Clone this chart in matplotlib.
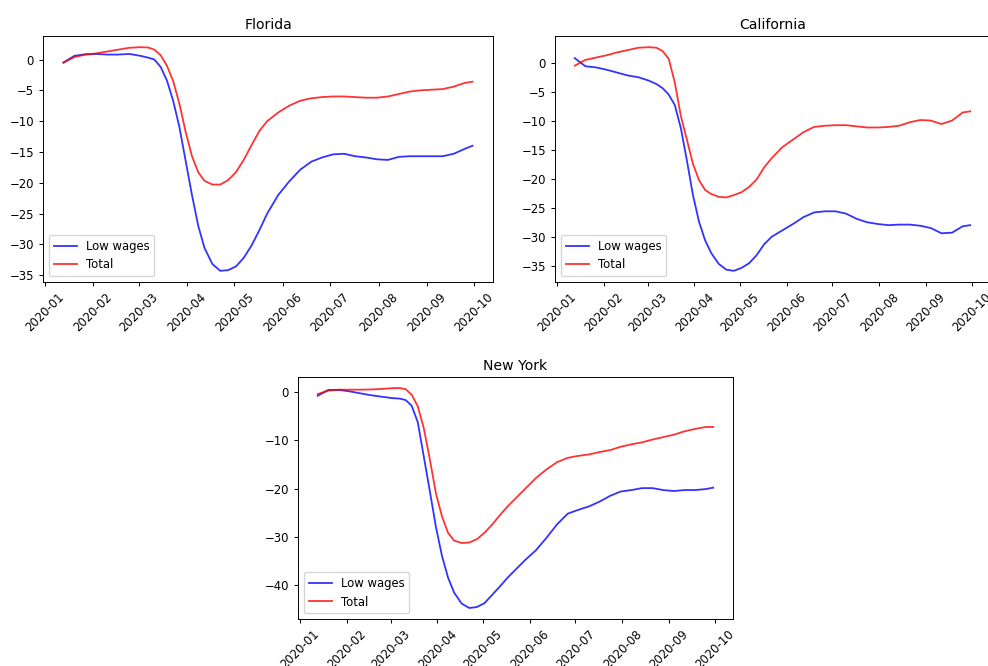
import pandas as pd
import matplotlib
matplotlib.use("Agg")
import matplotlib.pyplot as plt
import matplotlib.dates as mdates
from matplotlib.ticker import MultipleLocator

# sample dates (smoothed daily series)
dates = pd.to_datetime([
    "2020-01-13", "2020-01-20", "2020-01-27", "2020-02-03", "2020-02-10",
    "2020-02-17", "2020-02-24", "2020-03-02", "2020-03-07", "2020-03-11",
    "2020-03-15", "2020-03-19", "2020-03-23", "2020-03-27", "2020-03-31",
    "2020-04-04", "2020-04-08", "2020-04-12", "2020-04-17", "2020-04-22",
    "2020-04-27", "2020-05-02", "2020-05-07", "2020-05-12", "2020-05-17",
    "2020-05-22", "2020-05-29", "2020-06-05", "2020-06-12", "2020-06-19",
    "2020-06-26", "2020-07-03", "2020-07-10", "2020-07-17", "2020-07-24",
    "2020-07-31", "2020-08-07", "2020-08-14", "2020-08-21", "2020-08-28",
    "2020-09-04", "2020-09-11", "2020-09-18", "2020-09-25", "2020-09-30",
])

fl_low = [-0.5, 0.6, 0.85, 0.9, 0.8, 0.8, 0.9, 0.6, 0.3, 0.0,
          -1.2, -3.4, -6.7, -11.0, -16.5, -22.0, -27.0, -30.6, -33.2, -34.3,
          -34.2, -33.6, -32.2, -30.2, -27.7, -25.0, -22.0, -19.8, -17.9, -16.6,
          -15.9, -15.4, -15.3, -15.7, -15.9, -16.2, -16.3, -15.8, -15.7, -15.7,
          -15.7, -15.7, -15.3, -14.5, -14.0]
fl_total = [-0.5, 0.4, 0.8, 1.0, 1.3, 1.6, 1.9, 2.0, 1.95, 1.6,
            0.7, -1.0, -3.5, -7.2, -11.8, -15.7, -18.3, -19.7, -20.3, -20.3,
            -19.6, -18.3, -16.3, -13.9, -11.6, -10.0, -8.6, -7.5, -6.7, -6.3,
            -6.1, -6.0, -6.0, -6.1, -6.2, -6.2, -6.0, -5.6, -5.2, -5.0,
            -4.9, -4.8, -4.4, -3.8, -3.6]

ca_low = [0.9, -0.5, -0.7, -1.1, -1.6, -2.1, -2.4, -3.0, -3.6, -4.3,
          -5.4, -7.2, -11.2, -16.8, -22.8, -27.4, -30.6, -32.8, -34.7, -35.7,
          -35.9, -35.4, -34.6, -33.2, -31.3, -30.0, -28.9, -27.8, -26.6, -25.8,
          -25.6, -25.6, -26.0, -26.9, -27.5, -27.8, -28.0, -27.9, -27.9, -28.1,
          -28.5, -29.4, -29.3, -28.2, -28.0]
ca_total = [-0.4, 0.6, 1.0, 1.4, 1.9, 2.3, 2.7, 2.8, 2.7, 2.1,
            0.8, -3.3, -9.1, -13.2, -17.4, -20.2, -21.9, -22.6, -23.1, -23.2,
            -22.8, -22.3, -21.4, -20.1, -18.0, -16.4, -14.5, -13.2, -11.9, -11.0,
            -10.8, -10.7, -10.7, -10.9, -11.1, -11.1, -11.0, -10.8, -10.2, -9.8,
            -9.9, -10.5, -9.9, -8.5, -8.3]

ny_low = [-0.7, 0.5, 0.5, 0.2, -0.2, -0.6, -0.9, -1.2, -1.3, -1.6,
          -2.8, -6.2, -13.4, -20.6, -28.0, -34.0, -38.5, -41.6, -43.9, -44.8,
          -44.6, -43.8, -42.1, -40.4, -38.6, -37.0, -34.8, -32.8, -30.2, -27.4,
          -25.2, -24.4, -23.7, -22.7, -21.5, -20.6, -20.3, -19.9, -19.9, -20.3,
          -20.5, -20.3, -20.3, -20.1, -19.8]
ny_total = [-0.35, 0.35, 0.55, 0.55, 0.55, 0.6, 0.7, 0.85, 0.9, 0.65,
            -0.5, -2.9, -7.5, -14.0, -21.0, -25.8, -29.2, -30.8, -31.3, -31.2,
            -30.5, -29.2, -27.5, -25.6, -23.8, -22.2, -20.0, -17.8, -16.0, -14.5,
            -13.6, -13.2, -12.9, -12.4, -12.0, -11.3, -10.8, -10.4, -9.8, -9.3,
            -8.8, -8.1, -7.6, -7.2, -7.2]

states = ["Florida", "California", "New York"]
low_series = [fl_low, ca_low, ny_low]
total_series = [fl_total, ca_total, ny_total]
ytick_steps = [5, 5, 10]

# reference looks like default style rendered a bit smaller
plt.rcParams.update({
    "font.size": 8.4,
    "lines.linewidth": 1.3,
    "axes.linewidth": 0.7,
    "xtick.major.size": 3,
    "ytick.major.size": 3,
    "xtick.major.width": 0.7,
    "ytick.major.width": 0.7,
    "axes.titlepad": 5,
})

W, H = 988, 666
fig = plt.figure(figsize=(W / 100, H / 100), dpi=100)

# axes boxes in pixels: left, top, right, bottom
boxes = [(43, 36, 493, 282), (555, 36, 990, 282), (298, 377, 733, 619)]

for state, low, total, step, (l, t, r, b) in zip(states, low_series, total_series,
                                                  ytick_steps, boxes):
    ax = fig.add_axes([l / W, 1 - b / H, (r - l) / W, (b - t) / H])
    ax.plot(dates, low, color="blue", alpha=0.8, label="Low wages")
    ax.plot(dates, total, color="red", alpha=0.8, label="Total")
    ax.set_title(state)
    ax.legend(loc="lower left")
    ax.yaxis.set_major_locator(MultipleLocator(step))
    ax.xaxis.set_major_locator(mdates.MonthLocator())
    ax.xaxis.set_major_formatter(mdates.DateFormatter("%Y-%m"))
    plt.setp(ax.get_xticklabels(), rotation=45)

fig.savefig("out.png", dpi=100)
